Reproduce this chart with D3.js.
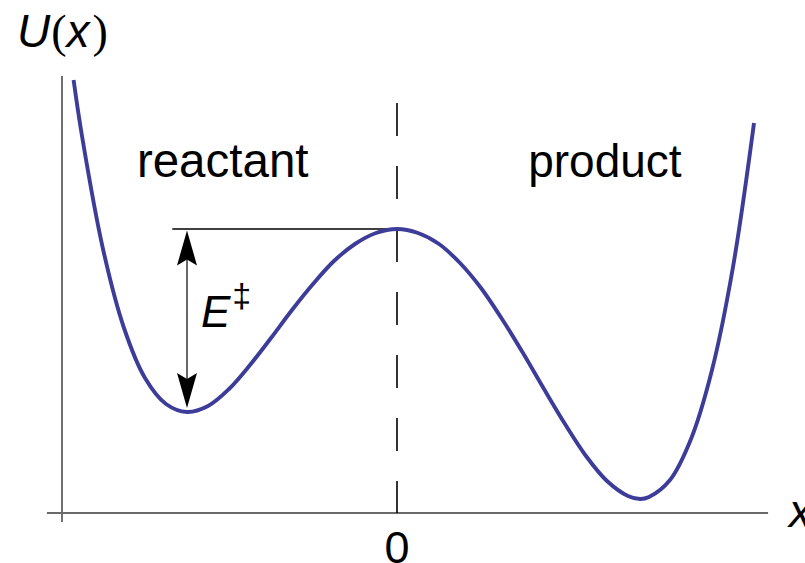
<!DOCTYPE html>
<html>
<head>
<meta charset="utf-8">
<script src="https://cdn.jsdelivr.net/npm/d3@7"></script>
<style>
  body { margin: 0; background: #fff; }
  svg { display: block; }
  text { font-family: "Liberation Sans", Arial, sans-serif; fill: #000; }
</style>
</head>
<body>
<div class="chart"></div>
<script>
// potential curve (x in well units, U in energy units)
var xVals = [-1.54, -1.5, -1.4, -1.3, -1.2, -1.1, -1.0, -0.9, -0.8, -0.7, -0.6, -0.5, -0.4, -0.3, -0.2, -0.1,
             0, 0.1, 0.2, 0.3, 0.4, 0.5, 0.6, 0.7, 0.8, 0.9, 1.0, 1.1, 1.157, 1.2, 1.3, 1.4, 1.5, 1.6, 1.7];
var uVals = [4.33, 3.77, 2.64, 1.85, 1.35, 1.09, 1.01, 1.07, 1.24, 1.48, 1.75, 2.03, 2.29, 2.52, 2.69, 2.80,
             2.84, 2.80, 2.69, 2.50, 2.25, 1.94, 1.60, 1.24, 0.89, 0.57, 0.32, 0.17, 0.14, 0.16, 0.33, 0.74, 1.43, 2.46, 3.90];

// key points
var barrierTop = 2.84;     // U at x = 0
var reactantMin = 1.01;    // U at x = -1
var reactantX = -1;

var regionLabels = ["reactant", "product"];
var labelX = [-0.83, 0.99];
var tickLabels = ["0"];

var width = 805, height = 563;

var svg = d3.select(".chart")
    .append("svg")
    .attr("width", width)
    .attr("height", height);

// 210 px per x unit, 100 px per U unit
var x = d3.scaleLinear().domain([-1.6, 1.75]).range([61, 764.5]);
var y = d3.scaleLinear().domain([0, 4.37]).range([513, 76]);

//axes (plain lines, no ticks)
svg.append("line")
    .attr("x1", x(-1.6) + 1).attr("x2", x(-1.6) + 1)
    .attr("y1", y(4.37)).attr("y2", y(0) + 9)
    .attr("stroke", "#333").attr("stroke-width", 1.4);

svg.append("line")
    .attr("x1", x(-1.667)).attr("x2", x(1.767))
    .attr("y1", y(0)).attr("y2", y(0))
    .attr("stroke", "#6a6a6a").attr("stroke-width", 2);

// dashed divider at x = 0
svg.append("line")
    .attr("x1", x(0)).attr("x2", x(0))
    .attr("y1", y(4.1)).attr("y2", y(0))
    .attr("stroke", "#000").attr("stroke-width", 1.6)
    .attr("stroke-dasharray", "33,30");

// barrier level line
svg.append("line")
    .attr("x1", x(-1.07)).attr("x2", x(0))
    .attr("y1", y(barrierTop)).attr("y2", y(barrierTop))
    .attr("stroke", "#000").attr("stroke-width", 1.3);

// curve
var pts = xVals.map(function(d, i){ return [d, uVals[i]]; });
var line = d3.line()
    .x(function(d){ return x(d[0]); })
    .y(function(d){ return y(d[1]); })
    .curve(d3.curveCatmullRom.alpha(0.5));

svg.append("path")
    .datum(pts)
    .attr("d", line)
    .attr("fill", "none")
    .attr("stroke", "#3d3d99")
    .attr("stroke-width", 3.9)
    .attr("stroke-linecap", "butt");

// double arrow for E‡
var ax = x(reactantX), aTop = y(barrierTop) + 1.5, aBot = y(reactantMin) - 4;
svg.append("line")
    .attr("x1", ax).attr("x2", ax)
    .attr("y1", aTop + 20).attr("y2", aBot - 20)
    .attr("stroke", "#000").attr("stroke-width", 1.2);

function head(tipY, dir){
    // dir = 1 pointing up, -1 pointing down
    var L = 35, W = 10, n = 6;
    return "M" + ax + "," + tipY +
        " L" + (ax - W) + "," + (tipY + dir * L) +
        " L" + ax + "," + (tipY + dir * (L - n)) +
        " L" + (ax + W) + "," + (tipY + dir * L) + " Z";
}
svg.append("path").attr("d", head(aTop, 1)).attr("fill", "#000");
svg.append("path").attr("d", head(aBot, -1)).attr("fill", "#000");

// labels
svg.selectAll(".region")
    .data(regionLabels)
    .enter()
    .append("text")
    .attr("class", "region")
    .attr("x", function(d, i){ return x(labelX[i]); })
    .attr("y", 177)
    .attr("text-anchor", "middle")
    .attr("font-size", function(d, i){ return i == 0 ? 47.5 : 46; })
    .text(function(d){ return d; });

svg.append("text")
    .attr("x", x(0))
    .attr("y", 563)
    .attr("text-anchor", "middle")
    .attr("font-size", 45)
    .text(tickLabels[0]);

var eLab = svg.append("text")
    .attr("x", 201)
    .attr("y", 327)
    .attr("font-size", 44);
eLab.append("tspan").attr("font-style", "italic").text("E");
eLab.append("tspan").attr("font-size", 34).attr("dx", 2).attr("dy", -20).text("‡");

var uLab = svg.append("text")
    .attr("x", 17)
    .attr("y", 47)
    .attr("font-size", 46);
uLab.append("tspan").attr("font-style", "italic").text("U");
uLab.append("tspan").attr("style", "font-family:'Liberation Serif',serif").attr("dx", 1).text("(");
uLab.append("tspan").attr("font-style", "italic").text("x");
uLab.append("tspan").attr("style", "font-family:'Liberation Serif',serif").attr("dx", 3).text(")");

svg.append("text")
    .attr("x", 789)
    .attr("y", 527)
    .attr("font-size", 46)
    .attr("font-style", "italic")
    .text("x");
</script>
</body>
</html>
